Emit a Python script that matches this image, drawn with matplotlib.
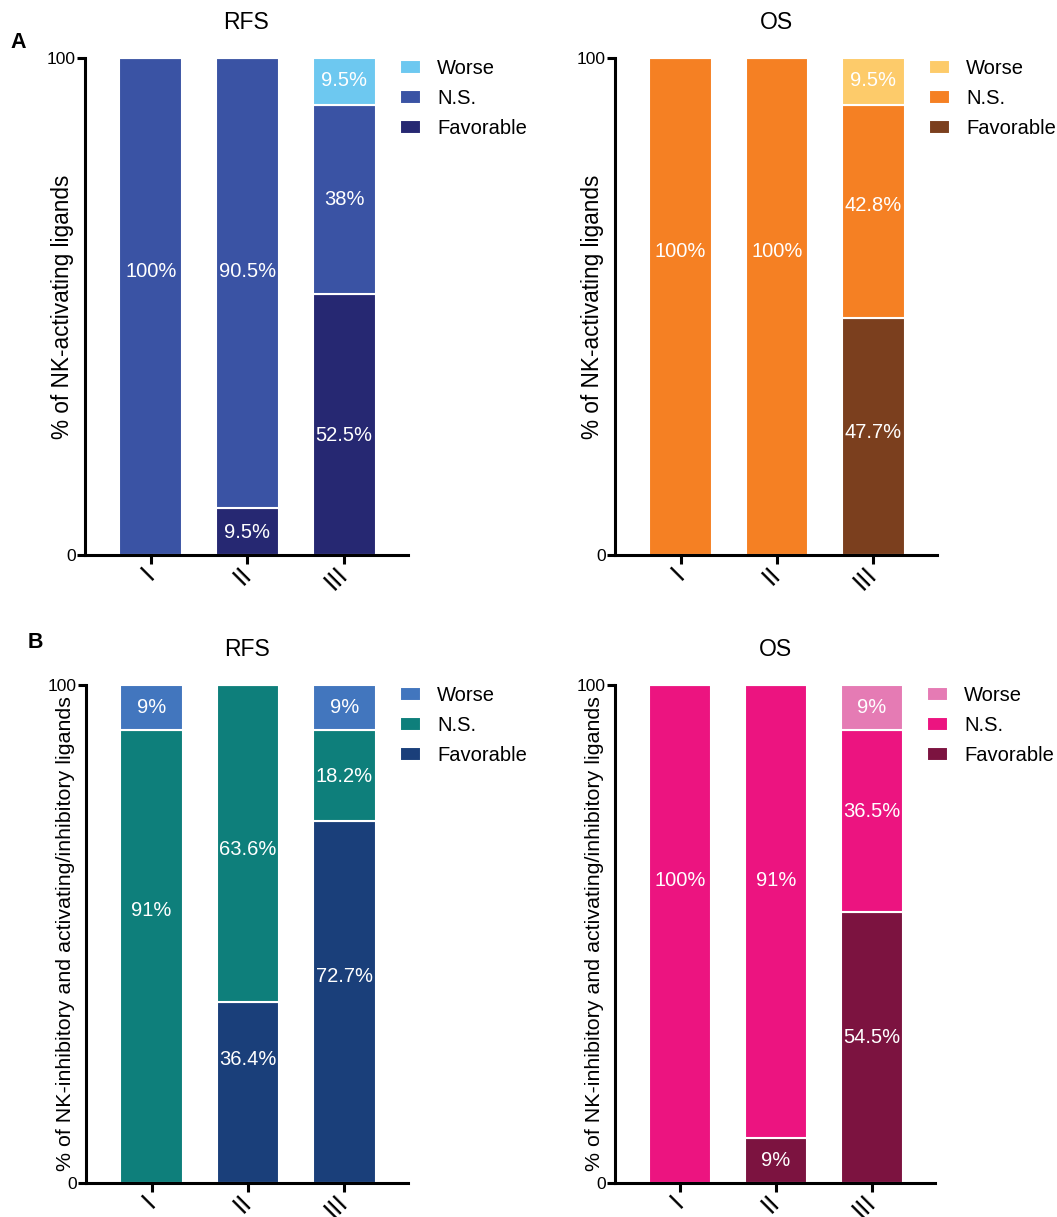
import matplotlib
matplotlib.use("Agg")
import matplotlib.pyplot as plt
import numpy as np

plt.rcParams['font.family'] = ['Liberation Sans', 'DejaVu Sans']

stages = ["I", "II", "III"]
groups = ["Favorable", "N.S.", "Worse"]

# % of ligands per stage: favorable / n.s. / worse
a_rfs_fav = [0, 9.5, 52.5]
a_rfs_ns = [100, 90.5, 38]
a_rfs_worse = [0, 0, 9.5]

a_os_fav = [0, 0, 47.7]
a_os_ns = [100, 100, 42.8]
a_os_worse = [0, 0, 9.5]

b_rfs_fav = [0, 36.4, 72.7]
b_rfs_ns = [91, 63.6, 18.2]
b_rfs_worse = [9, 0, 9]

b_os_fav = [0, 9, 54.5]
b_os_ns = [100, 91, 36.5]
b_os_worse = [0, 0, 9]

W, H = 1057, 1217
fig = plt.figure(figsize=(W / 100, H / 100), dpi=100)


def px_axes(x0, x1, ytop, ybot):
    return fig.add_axes([x0 / W, 1 - ybot / H, (x1 - x0) / W, (ybot - ytop) / H])


# (axes box in px, title, ylabel + size, data, colours, label heights)
panels = [
    ((85, 408, 58, 555), "RFS", "% of NK-activating ligands", 16.3,
     (a_rfs_fav, a_rfs_ns, a_rfs_worse), ("#262872", "#3A53A4", "#6DC8F0"),
     ((None, 57, None), (4.6, 57, None), (24.1, 71.5, 95.5))),
    ((615, 937, 58, 555), "OS", "% of NK-activating ligands", 16.3,
     (a_os_fav, a_os_ns, a_os_worse), ("#7B3F1E", "#F58023", "#FDCB6A"),
     ((None, 61, None), (None, 61, None), (24.7, 70.4, 95.5))),
    ((86, 408, 685, 1183), "RFS", "% of NK-inhibitory and activating/inhibitory ligands", 15.4,
     (b_rfs_fav, b_rfs_ns, b_rfs_worse), ("#1A3F7A", "#0E7F7B", "#4276BE"),
     ((None, 54.8, 95.4), (24.7, 66.9, None), (41.4, 81.7, 95.4))),
    ((615, 935, 685, 1183), "OS", "% of NK-inhibitory and activating/inhibitory ligands", 15.4,
     (b_os_fav, b_os_ns, b_os_worse), ("#7C1340", "#EC1480", "#E57BB4"),
     ((None, 60.8, None), (4.6, 60.8, None), (29.3, 74.5, 95.4))),
]

x = np.arange(len(stages))
for box, title, ylabel, ysize, series, colors, label_y in panels:
    ax = px_axes(*box)
    bottom = np.zeros(len(stages))
    handles = []
    for vals, col, name in zip(series, colors, groups):
        vals = np.array(vals, dtype=float)
        h = ax.bar(x, vals, width=0.65, bottom=bottom, color=col,
                   edgecolor="white", linewidth=1.5, label=name)
        handles.append(h)
        bottom += vals
    # value labels inside the segments
    for i in range(len(stages)):
        for k, vals in enumerate(series):
            if vals[i] > 0 and label_y[i][k] is not None:
                ax.text(x[i], label_y[i][k], f"{vals[i]:g}%", color="white",
                        ha="center", va="center", fontsize=14.5)

    ax.set_xlim(-0.68, 2.66)
    ax.set_ylim(0, 100)
    ax.set_yticks([0, 100])
    ax.set_yticklabels(["0", "100"], fontsize=12.5)
    ax.set_xticks(x)
    ax.set_xticklabels(stages, rotation=45, ha="right", va="center",
                       rotation_mode="anchor", fontsize=19)
    ax.tick_params(axis="y", length=6, width=2.2, pad=0.5)
    ax.tick_params(axis="x", length=6.5, width=2.2, pad=5)
    for side in ("top", "right"):
        ax.spines[side].set_visible(False)
    for side in ("left", "bottom"):
        ax.spines[side].set_linewidth(2.2)
    ax.set_title(title, fontsize=16.5, pad=21)
    ax.set_ylabel(ylabel, fontsize=ysize)
    ax.yaxis.set_label_coords(-11 / (box[1] - box[0]), 0.5)
    ax.legend(handles[::-1], groups[::-1], loc="upper left",
              bbox_to_anchor=(0.975, 0.998), frameon=False, fontsize=14.5,
              handlelength=1.05, handleheight=0.7, handletextpad=0.8,
              labelspacing=0.55, borderpad=0, borderaxespad=0)

fig.text(18 / W, 1 - 42 / H, "A", fontsize=15.5, fontweight="bold", ha="center", va="center")
fig.text(35 / W, 1 - 642 / H, "B", fontsize=15.5, fontweight="bold", ha="center", va="center")

fig.savefig("out.png", dpi=100)
